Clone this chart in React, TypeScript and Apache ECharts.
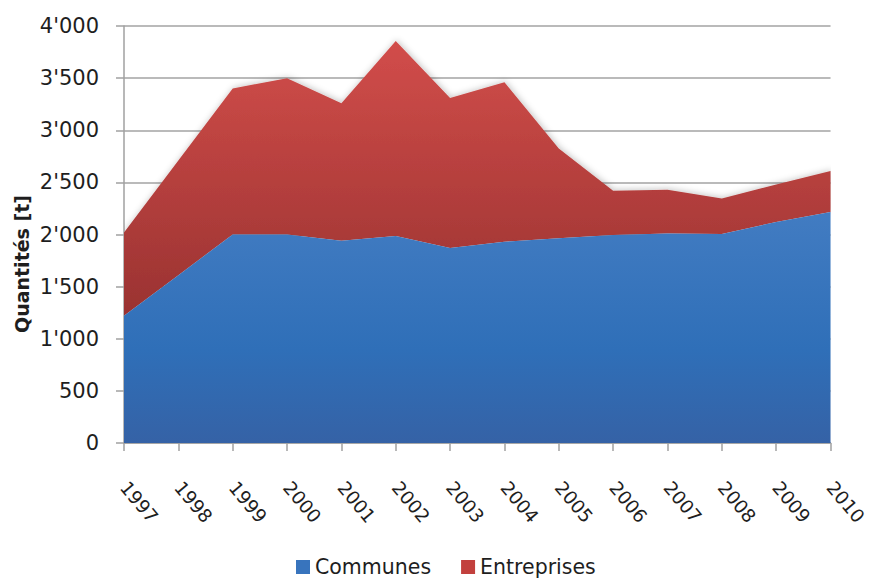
import React, { useEffect, useRef } from "react";
import * as echarts from "echarts";

const years = ["1997", "1998", "1999", "2000", "2001", "2002", "2003", "2004", "2005", "2006", "2007", "2008", "2009", "2010"];
const communes = [1220, 1610, 2000, 2000, 1940, 1985, 1870, 1930, 1965, 1995, 2010, 2005, 2120, 2215];
const entreprises = [800, 1100, 1400, 1500, 1320, 1870, 1440, 1530, 860, 425, 420, 340, 360, 395];
const yMin = 0;
const yMax = 4000;
const yStep = 500;
const yTitle = "Quantités [t]";
const seriesNames = ["Communes", "Entreprises"];

const fmt = (v: number) => {
  if (v >= 1000) {
    const th = Math.floor(v / 1000);
    const rest = String(v % 1000).padStart(3, "0");
    return `${th}'${rest}`;
  }
  return String(v);
};

const FONT = "DejaVu Sans";
const TXT = "#1e1e1e";

export default function App() {
  const ref = useRef<HTMLDivElement>(null);
  useEffect(() => {
    if (!ref.current) return;
    const chart = echarts.init(ref.current, undefined, { renderer: "svg" });
    const redGrad = new echarts.graphic.LinearGradient(0, 40, 0, 330, [
      { offset: 0, color: "#d24d4a" },
      { offset: 1, color: "#973130" },
    ], true);
    const blueGrad = new echarts.graphic.LinearGradient(0, 210, 0, 443, [
      { offset: 0, color: "#427cc2" },
      { offset: 0.6, color: "#2f6fb8" },
      { offset: 1, color: "#3562a6" },
    ], true);
    chart.setOption({
      animation: false,
      backgroundColor: "#ffffff",
      textStyle: { fontFamily: FONT },
      grid: { left: 124, right: 38, top: 26, bottom: 136, containLabel: false },
      legend: {
        left: 291,
        top: 551,
        icon: "rect",
        itemWidth: 14,
        itemHeight: 14,
        itemGap: 30,
        itemTextGap: 7,
        textStyle: { fontFamily: FONT, fontSize: 20.5, color: TXT, lineHeight: 22 },
        data: [
          { name: seriesNames[0], itemStyle: { color: "#3874bd" } },
          { name: seriesNames[1], itemStyle: { color: "#c2403d" } },
        ],
      },
      graphic: [
        {
          type: "text",
          x: 22,
          y: 264,
          rotation: Math.PI / 2,
          style: {
            text: yTitle,
            fontFamily: FONT,
            fontSize: 19,
            fontWeight: "bold",
            fill: TXT,
            align: "center",
            verticalAlign: "middle",
          },
        },
      ],
      xAxis: {
        type: "category",
        data: years,
        boundaryGap: false,
        axisLine: { show: true, lineStyle: { color: "#a0a0a0", width: 1.5 } },
        axisTick: { show: true, length: 8, lineStyle: { color: "#a0a0a0", width: 1.5 } },
        axisLabel: {
          rotate: -50,
          margin: 41,
          fontFamily: FONT,
          fontSize: 18.5,
          color: TXT,
          interval: 0,
        },
        splitLine: { show: false },
      },
      yAxis: {
        type: "value",
        min: yMin,
        max: yMax,
        interval: yStep,
        axisLine: { show: true, lineStyle: { color: "#a0a0a0", width: 1.5 } },
        axisTick: { show: true, length: 8, lineStyle: { color: "#a0a0a0", width: 1.5 } },
        axisLabel: {
          margin: 25,
          fontFamily: FONT,
          fontSize: 21,
          color: TXT,
          formatter: (v: number) => fmt(v),
        },
        splitLine: { show: true, lineStyle: { color: "#a3a3a3", width: 1.5 } },
      },
      series: [
        {
          name: seriesNames[0],
          type: "line",
          stack: "total",
          data: communes,
          symbol: "none",
          lineStyle: { width: 0, opacity: 0 },
          itemStyle: { color: "#3874bd" },
          areaStyle: { color: blueGrad, opacity: 1 },
          z: 3,
        },
        {
          name: seriesNames[1],
          type: "line",
          stack: "total",
          data: entreprises,
          symbol: "none",
          lineStyle: { width: 0, opacity: 0 },
          itemStyle: { color: "#c2403d" },
          areaStyle: {
            color: redGrad,
            opacity: 1,
            shadowBlur: 6,
            shadowColor: "rgba(0,0,0,0.22)",
            shadowOffsetX: 1,
            shadowOffsetY: -1,
          },
          z: 2,
        },
      ],
    });
    return () => chart.dispose();
  }, []);
  return <div ref={ref} style={{ width: 870, height: 579, position: "absolute", left: 0, top: 0 }} />;
}
